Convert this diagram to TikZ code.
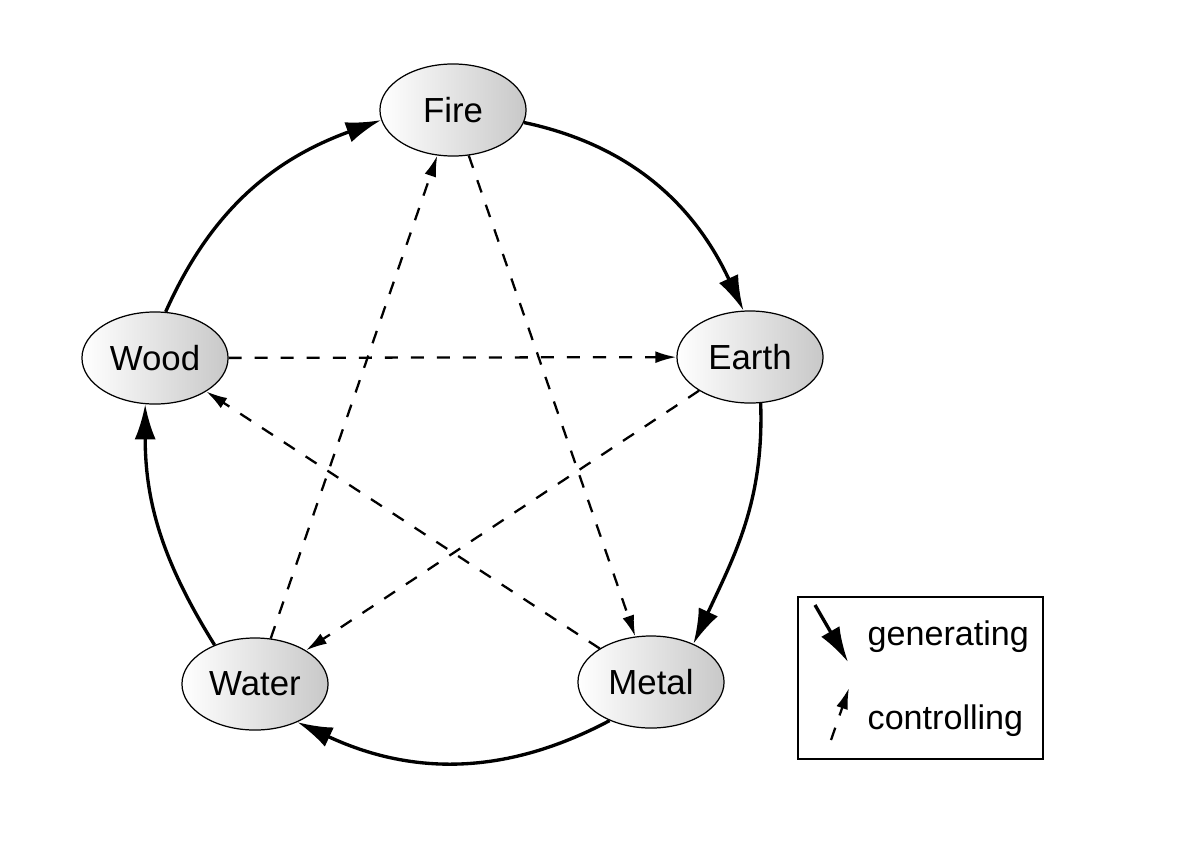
\documentclass[tikz,border=0pt]{standalone}
\usepackage{fontspec}
\setmainfont{Liberation Sans}
\usetikzlibrary{arrows.meta,shapes.geometric}
\definecolor{ink}{HTML}{000000}
\definecolor{shadegray}{HTML}{C8C8C8}
\tikzset{
  elem/.style={ellipse,draw=ink,line width=0.35pt,left color=white,right color=shadegray,minimum width=1.46cm,minimum height=0.92cm,inner sep=0pt,font=\fontsize{9.9}{11}\selectfont},
  gen/.style={-{Latex[length=10pt,width=6pt]},line width=0.95pt,draw=ink},
  ctl/.style={-{Latex[length=6pt,width=3.4pt]},line width=0.65pt,dash pattern=on 3.7pt off 3.7pt,draw=ink},
  keybox/.style={draw=ink,line width=0.35pt,minimum width=2.45cm,minimum height=1.62cm,inner sep=0pt},
  keytxt/.style={font=\fontsize{9.7}{11}\selectfont,anchor=base west,inner sep=0pt},
}
\begin{document}
\begin{tikzpicture}[x=0.01cm,y=-0.01cm]
\useasboundingbox (0,0) rectangle (1180,867);
% the five elements
\foreach \name/\x/\y/\txt in {fire/453/110/Fire, earth/750/357/Earth, metal/651/682/Metal, water/255/684/Water, wood/155/358/Wood}
  \node[elem] (\name) at (\x,\y) {\txt};
% generating cycle
\foreach \a/\oa/\o/\b/\ib/\i in {fire/-10/-12/earth/98/115, earth/-77/-88/metal/42/65, metal/223/208/water/-42/-25, water/136/122/wood/-102/-90, wood/77/66/fire/188/200}
  \draw[gen] (\a.\oa) to[out=\o,in=\i] (\b.\ib);
% controlling star
\foreach \a/\b in {fire/metal, metal/wood, wood/earth, earth/water, water/fire}
  \draw[ctl] (\a) -- (\b);
% legend
\node[keybox] (key) at (920.5,678) {};
\coordinate (g0) at (815,605);
\coordinate (g1) at (848,662);
\coordinate (c0) at (831,740);
\coordinate (c1) at (849,688);
\draw[gen] (g0) -- (g1);
\draw[ctl] (c0) -- (c1);
\node[keytxt] (gtxt) at (867,645) {generating};
\node[keytxt] (ctxt) at (867,729) {controlling};
\end{tikzpicture}
\end{document}
